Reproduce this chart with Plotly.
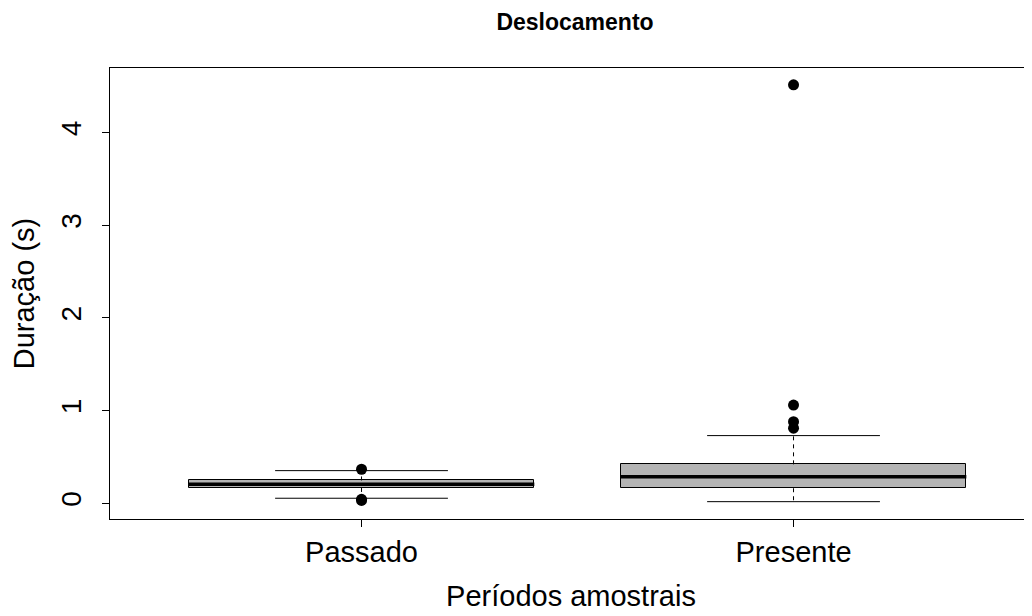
import plotly.graph_objects as go

# ---- data ----
categories = ["Passado", "Presente"]
positions = [1, 2]
q1 = [0.165, 0.162]
median = [0.205, 0.287]
q3 = [0.246, 0.420]
whisker_low = [0.054, 0.017]
whisker_high = [0.352, 0.730]
outliers_passado = [0.367, 0.030, 0.042]
outliers_presente = [4.515, 1.060, 0.880, 0.810]
y_ticks = [0, 1, 2, 3, 4]

title = "Deslocamento"
x_title = "Períodos amostrais"
y_title = "Duração (s)"

# ---- styling ----
box_width = 0.8
cap_width = 0.4
fill = "#B4B4B4"
font_family = "Liberation Sans, Arial, sans-serif"

fig = go.Figure()

# boxes
fig.add_trace(go.Bar(
    x=positions,
    y=[b - a for a, b in zip(q1, q3)],
    base=q1,
    width=box_width,
    marker=dict(color=fill, line=dict(color="black", width=1)),
    hoverinfo="skip",
))

for i, p in enumerate(positions):
    # medians
    fig.add_trace(go.Scatter(
        x=[p - box_width / 2, p + box_width / 2], y=[median[i], median[i]],
        mode="lines", line=dict(color="black", width=3.5), hoverinfo="skip"))
    # dashed whiskers
    fig.add_trace(go.Scatter(
        x=[p, p], y=[q3[i], whisker_high[i]],
        mode="lines", line=dict(color="black", width=1, dash="4px,4px"), hoverinfo="skip"))
    fig.add_trace(go.Scatter(
        x=[p, p], y=[q1[i], whisker_low[i]],
        mode="lines", line=dict(color="black", width=1, dash="4px,4px"), hoverinfo="skip"))
    # staples
    for w in (whisker_low[i], whisker_high[i]):
        fig.add_trace(go.Scatter(
            x=[p - cap_width / 2, p + cap_width / 2], y=[w, w],
            mode="lines", line=dict(color="black", width=1), hoverinfo="skip"))

# outliers
fig.add_trace(go.Scatter(
    x=[positions[0]] * len(outliers_passado), y=outliers_passado,
    mode="markers", marker=dict(color="black", size=11), hoverinfo="skip"))
fig.add_trace(go.Scatter(
    x=[positions[1]] * len(outliers_presente), y=outliers_presente,
    mode="markers", marker=dict(color="black", size=11), hoverinfo="skip"))

# page has an 8px body margin: figure coords = window coords - 8
fig.update_layout(
    width=1032, height=616,
    margin=dict(l=102, r=8, t=60, b=105),
    paper_bgcolor="white", plot_bgcolor="white",
    showlegend=False,
    font=dict(family=font_family, color="black", size=28),
    title=dict(text="<b>" + title + "</b>", x=567 / 1032, xanchor="center",
               y=1 - 14 / 616, yanchor="middle", font=dict(size=23)),
    bargap=0,
)

fig.update_xaxes(
    range=[0.4178, 2.552],
    tickmode="array", tickvals=positions, ticktext=categories,
    tickfont=dict(size=29),
    ticks="outside", ticklen=7, tickcolor="black",
    showline=True, linecolor="black", linewidth=1, mirror=True,
    showgrid=False, zeroline=False,
    title=dict(text=x_title, standoff=18, font=dict(size=29)),
)
fig.update_yaxes(
    range=[-0.170, 4.697],
    tickmode="array", tickvals=y_ticks, ticktext=[str(t) for t in y_ticks],
    tickangle=-90, tickfont=dict(size=28), ticklabelstandoff=10,
    ticks="outside", ticklen=7, tickcolor="black",
    showline=True, linecolor="black", linewidth=1, mirror=False,
    showgrid=False, zeroline=False,
    title=dict(text=y_title, standoff=14, font=dict(size=29)),
)

fig.write_html("out.html")
